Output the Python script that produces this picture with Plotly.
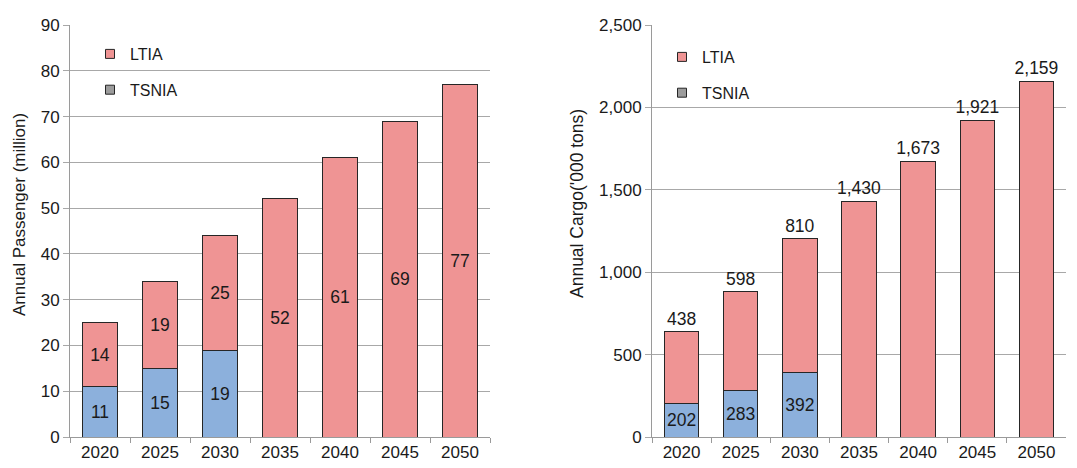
import plotly.graph_objects as go
from plotly.subplots import make_subplots

# Forecast years
years = ["2020", "2025", "2030", "2035", "2040", "2045", "2050"]

# Annual passengers (million)
pax_tsnia = [11, 15, 19, None, None, None, None]
pax_ltia = [14, 19, 25, 52, 61, 69, 77]

# Annual cargo ('000 tons)
cargo_tsnia = [202, 283, 392, None, None, None, None]
cargo_ltia = [438, 598, 810, 1430, 1673, 1921, 2159]

PINK = "#EF9494"
BLUE = "#8CB0DC"
EDGE = "#262626"
FONT = "Liberation Sans, Arial, sans-serif"
TXT = "#1a1a1a"
LABEL_SIZE = 17.5

fig = make_subplots(rows=1, cols=2)


def fmt(v):
    return "" if v is None else f"{v:,}"


def bar(y, color, pos, name):
    return go.Bar(x=years, y=y, marker=dict(color=color, line=dict(color=EDGE, width=1)),
                  text=[fmt(v) for v in y], textposition=pos, constraintext="none",
                  textangle=0, insidetextanchor="middle",
                  textfont=dict(size=LABEL_SIZE, color=TXT),
                  cliponaxis=False, showlegend=False, name=name)


# Passenger chart (left)
fig.add_trace(bar(pax_tsnia, BLUE, "inside", "TSNIA"), row=1, col=1)
fig.add_trace(bar(pax_ltia, PINK, "inside", "LTIA"), row=1, col=1)

# Cargo chart (right): LTIA values are written above the stack
fig.add_trace(bar(cargo_tsnia, BLUE, "inside", "TSNIA"), row=1, col=2)
fig.add_trace(bar(cargo_ltia, PINK, "outside", "LTIA"), row=1, col=2)

# Legend entries (square swatches)
for leg, xa, ya in [("legend", "x", "y"), ("legend2", "x2", "y2")]:
    fig.add_trace(go.Scatter(x=[None], y=[None], mode="markers", name="LTIA",
                             marker=dict(symbol="square", size=9, color=PINK, line=dict(color=EDGE, width=1)),
                             legend=leg, legendgroup="a", xaxis=xa, yaxis=ya))
    fig.add_trace(go.Scatter(x=[None], y=[None], mode="markers", name="TSNIA",
                             marker=dict(symbol="square", size=9, color="#9c9c9c", line=dict(color=EDGE, width=1)),
                             legend=leg, legendgroup="b", xaxis=xa, yaxis=ya))

W, H = 1077, 468
top, bottom = 25, 437
ydom = [1 - bottom / H, 1 - top / H]

legend_style = dict(bgcolor="rgba(0,0,0,0)", font=dict(family=FONT, size=16, color=TXT),
                    traceorder="grouped", tracegroupgap=12, itemwidth=30,
                    xanchor="left", yanchor="top")

fig.update_layout(
    width=W, height=H,
    margin=dict(l=0, r=0, t=0, b=0),
    barmode="stack",
    bargap=0.42,
    paper_bgcolor="white",
    plot_bgcolor="white",
    font=dict(family=FONT, size=16, color=TXT),
    legend=dict(x=90 / W, y=1 - 37 / H, **legend_style),
    legend2=dict(x=662 / W, y=1 - 40 / H, **legend_style),
)

axis_x = dict(type="category", showgrid=False, showline=True, linecolor="#9a9a9a", linewidth=1,
              ticks="outside", tickson="boundaries", ticklen=5, tickcolor="#9a9a9a",
              tickfont=dict(family=FONT, size=17, color=TXT), automargin=False)
axis_y = dict(showgrid=True, gridcolor="#a8a8a8", gridwidth=1, showline=True, linecolor="#9a9a9a",
              linewidth=1, ticks="outside", ticklen=6, tickcolor="#a8a8a8",
              tickfont=dict(family=FONT, size=17, color=TXT), zeroline=False, automargin=False)

fig.update_xaxes(domain=[70 / W, 490 / W], **axis_x, row=1, col=1)
fig.update_xaxes(domain=[652 / W, 1066 / W], **axis_x, row=1, col=2)
fig.update_yaxes(domain=ydom, range=[0, 90], dtick=10, **axis_y, row=1, col=1)
fig.update_yaxes(domain=ydom, range=[0, 2500], dtick=500, tickformat=",", **axis_y, row=1, col=2)

# Axis titles
fig.add_annotation(text="Annual Passenger (million)", textangle=-90, showarrow=False,
                   xref="paper", yref="paper", x=20 / W, y=1 - 215 / H,
                   xanchor="center", yanchor="middle",
                   font=dict(family=FONT, size=17, color=TXT))
fig.add_annotation(text="Annual Cargo('000 tons)", textangle=-90, showarrow=False,
                   xref="paper", yref="paper", x=577 / W, y=1 - 204 / H,
                   xanchor="center", yanchor="middle",
                   font=dict(family=FONT, size=17.5, color=TXT))

fig.write_html("out.html")
